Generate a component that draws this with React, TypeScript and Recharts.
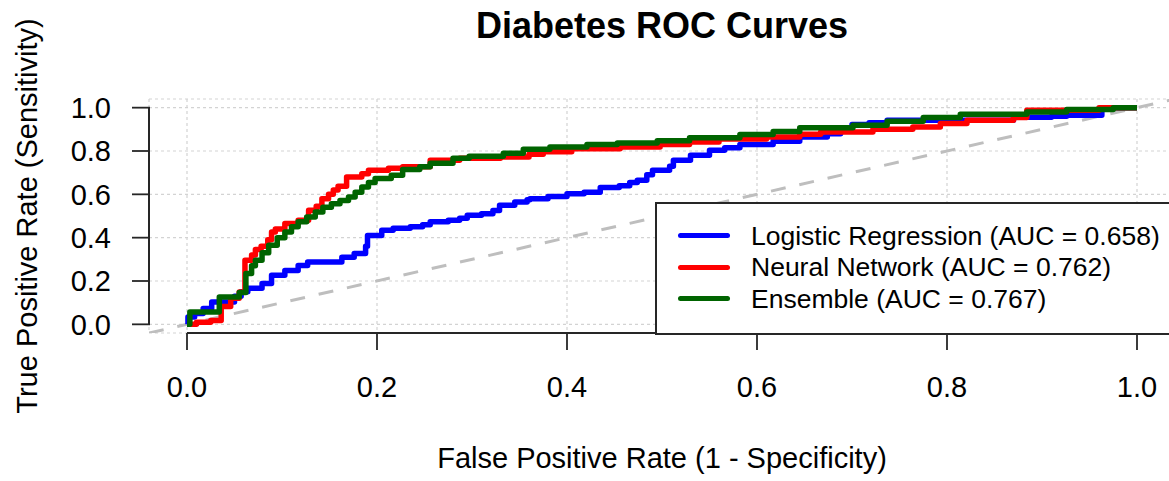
import React from 'react';
import { LineChart, Line, XAxis, YAxis, CartesianGrid, ReferenceLine, Label } from 'recharts';

const axisTicks = [0, 0.2, 0.4, 0.6, 0.8, 1];

const modelNames = ['Logistic Regression', 'Neural Network', 'Ensemble'];
const modelAuc = [0.658, 0.762, 0.767];
const modelColors = ['#0000ff', '#ff0000', '#006400'];

// chance line, spans the whole plot region like abline(0, 1)
const diagFpr = [-0.04, 1.04];
const diagTpr = [-0.04, 1.04];

const lrFpr = [0, 0.001, 0.008, 0.017, 0.026, 0.05, 0.057, 0.064, 0.079, 0.089, 0.103, 0.117, 0.127, 0.163, 0.176, 0.188, 0.19, 0.205, 0.217, 0.235, 0.248, 0.256, 0.275, 0.287, 0.295, 0.31, 0.322, 0.329, 0.345, 0.358, 0.361, 0.38, 0.4, 0.418, 0.435, 0.455, 0.466, 0.474, 0.484, 0.49, 0.508, 0.512, 0.53, 0.55, 0.566, 0.582, 0.617, 0.645, 0.674, 0.688, 0.7, 0.718, 0.737, 0.87, 0.91, 0.926, 0.963, 1];
const lrTpr = [0, 0.034, 0.05, 0.073, 0.103, 0.13, 0.15, 0.166, 0.189, 0.226, 0.249, 0.272, 0.288, 0.31, 0.327, 0.36, 0.41, 0.434, 0.443, 0.45, 0.46, 0.473, 0.48, 0.49, 0.503, 0.51, 0.525, 0.55, 0.565, 0.575, 0.58, 0.59, 0.603, 0.61, 0.631, 0.64, 0.655, 0.665, 0.69, 0.711, 0.73, 0.757, 0.78, 0.804, 0.815, 0.83, 0.845, 0.865, 0.88, 0.895, 0.922, 0.93, 0.942, 0.956, 0.96, 0.965, 1, 1];

const nnFpr = [0, 0.01, 0.025, 0.036, 0.046, 0.055, 0.061, 0.068, 0.072, 0.078, 0.085, 0.089, 0.093, 0.103, 0.117, 0.128, 0.136, 0.142, 0.149, 0.154, 0.159, 0.168, 0.184, 0.191, 0.212, 0.227, 0.256, 0.287, 0.33, 0.36, 0.375, 0.405, 0.456, 0.498, 0.529, 0.56, 0.61, 0.645, 0.667, 0.722, 0.764, 0.793, 0.821, 0.87, 0.884, 0.96, 1];
const nnTpr = [0, 0.01, 0.018, 0.082, 0.12, 0.149, 0.296, 0.32, 0.345, 0.36, 0.39, 0.426, 0.44, 0.465, 0.48, 0.527, 0.545, 0.58, 0.6, 0.62, 0.637, 0.68, 0.695, 0.711, 0.72, 0.727, 0.757, 0.766, 0.772, 0.785, 0.796, 0.81, 0.819, 0.83, 0.842, 0.855, 0.865, 0.877, 0.888, 0.9, 0.911, 0.927, 0.942, 0.955, 0.988, 1, 1];

const ensFpr = [0, 0.003, 0.034, 0.055, 0.062, 0.068, 0.072, 0.079, 0.086, 0.095, 0.103, 0.11, 0.117, 0.126, 0.135, 0.143, 0.152, 0.161, 0.17, 0.177, 0.184, 0.191, 0.198, 0.215, 0.227, 0.245, 0.256, 0.28, 0.297, 0.333, 0.354, 0.382, 0.421, 0.453, 0.495, 0.529, 0.582, 0.617, 0.645, 0.701, 0.737, 0.775, 0.814, 0.884, 0.926, 0.975, 1];
const ensTpr = [0, 0.057, 0.126, 0.147, 0.235, 0.27, 0.296, 0.33, 0.365, 0.4, 0.426, 0.45, 0.473, 0.495, 0.519, 0.54, 0.557, 0.572, 0.588, 0.61, 0.634, 0.655, 0.673, 0.688, 0.715, 0.727, 0.743, 0.766, 0.776, 0.79, 0.808, 0.819, 0.83, 0.837, 0.847, 0.861, 0.876, 0.89, 0.907, 0.919, 0.937, 0.955, 0.97, 0.98, 0.992, 1, 1];

const toPoints = (fpr: number[], tpr: number[]) => fpr.map((x, i) => ({ fpr: x, tpr: tpr[i] }));

const curves = [toPoints(lrFpr, lrTpr), toPoints(nnFpr, nnTpr), toPoints(ensFpr, ensTpr)];
const diagonal = toPoints(diagFpr, diagTpr);

const FONT = '"Liberation Sans", Arial, Helvetica, sans-serif';
const AXIS_COLOR = '#262626';

const XTick = ({ x, y, payload }: any) => (
  <g>
    <line x1={x} y1={y} x2={x} y2={y + 17} stroke={AXIS_COLOR} strokeWidth={1.8} />
    <text x={x} y={y + 64} textAnchor="middle" fontSize={29} fontFamily={FONT} fill="#000">
      {Number(payload.value).toFixed(1)}
    </text>
  </g>
);

const YTick = ({ x, y, payload }: any) => (
  <g>
    <line x1={x - 17} y1={y} x2={x + 1} y2={y} stroke={AXIS_COLOR} strokeWidth={1.8} />
    <text x={x - 38} y={y} dy="0.36em" textAnchor="end" fontSize={29} fontFamily={FONT} fill="#000">
      {Number(payload.value).toFixed(1)}
    </text>
  </g>
);

// legend box in the bottom-right corner of the plot region, like legend("bottomright")
const RocLegend = () => (
  <div
    style={{
      position: 'absolute',
      left: 655,
      top: 202,
      boxSizing: 'border-box',
      width: 540,
      height: 133,
      border: `2px solid ${AXIS_COLOR}`,
      background: '#fff',
      paddingTop: 16,
      fontFamily: FONT,
    }}
  >
    {modelNames.map((name, i) => (
      <div key={name} style={{ display: 'flex', alignItems: 'center', height: 31.5 }}>
        <span style={{ marginLeft: 21, width: 52, height: 5, borderRadius: 3, background: modelColors[i] }} />
        <span style={{ marginLeft: 21, fontSize: 26.5, lineHeight: 1, color: '#000', whiteSpace: 'nowrap' }}>
          {`${name} (AUC = ${modelAuc[i].toFixed(3)})`}
        </span>
      </div>
    ))}
  </div>
);

export default function App() {
  return (
    <div
      style={{
        position: 'absolute',
        left: 0,
        top: 0,
        width: 1169,
        height: 481,
        overflow: 'hidden',
        background: '#fff',
        fontFamily: FONT,
      }}
    >
      <svg width={1169} height={60} style={{ position: 'absolute', left: 0, top: 0 }}>
        <text x={662} y={38} textAnchor="middle" fontSize={36} fontWeight="bold" fontFamily={FONT} fill="#000">
          Diabetes ROC Curves
        </text>
      </svg>
      <LineChart width={1176} height={481} margin={{ top: 99, right: 1, bottom: 0, left: 0 }}>
        <CartesianGrid stroke="#d3d3d3" strokeDasharray="3 3" strokeWidth={1.2} />
        <XAxis
          type="number"
          dataKey="fpr"
          domain={[-0.04, 1.04]}
          allowDataOverflow
          ticks={axisTicks}
          interval={0}
          height={148}
          axisLine={false}
          tickLine={false}
          tickSize={0}
          tickMargin={0}
          tick={<XTick />}
        >
          <Label
            content={({ viewBox }: any) => (
              <text
                x={viewBox.x + viewBox.width / 2}
                y={viewBox.y + 135}
                textAnchor="middle"
                fontSize={29}
                fontFamily={FONT}
                fill="#000"
              >
                False Positive Rate (1 - Specificity)
              </text>
            )}
          />
        </XAxis>
        <YAxis
          type="number"
          domain={[-0.04, 1.04]}
          allowDataOverflow
          ticks={axisTicks}
          interval={0}
          width={149}
          axisLine={false}
          tickLine={false}
          tickSize={0}
          tickMargin={0}
          tick={<YTick />}
        >
          <Label
            content={({ viewBox }: any) => {
              const cx = viewBox.x + 37;
              const cy = viewBox.y + viewBox.height / 2;
              return (
                <text
                  x={cx}
                  y={cy}
                  transform={`rotate(-90 ${cx} ${cy})`}
                  textAnchor="middle"
                  fontSize={29}
                  fontFamily={FONT}
                  fill="#000"
                >
                  True Positive Rate (Sensitivity)
                </text>
              );
            }}
          />
        </YAxis>
        <Line
          data={diagonal}
          dataKey="tpr"
          type="linear"
          stroke="#bebebe"
          strokeWidth={3}
          strokeDasharray="15 14"
          dot={false}
          activeDot={false}
          legendType="none"
          isAnimationActive={false}
        />
        {curves.map((pts, i) => (
          <Line
            key={modelNames[i]}
            data={pts}
            dataKey="tpr"
            name={`${modelNames[i]} (AUC = ${modelAuc[i].toFixed(3)})`}
            type="stepAfter"
            stroke={modelColors[i]}
            strokeWidth={5.5}
            strokeLinejoin="round"
            dot={false}
            activeDot={false}
            isAnimationActive={false}
          />
        ))}
        <ReferenceLine
          segment={[{ x: 0, y: -0.04 }, { x: 1, y: -0.04 }]}
          stroke={AXIS_COLOR}
          strokeWidth={2}
          ifOverflow="visible"
        />
        <ReferenceLine
          segment={[{ x: -0.04, y: 0 }, { x: -0.04, y: 1 }]}
          stroke={AXIS_COLOR}
          strokeWidth={2}
          ifOverflow="visible"
        />
      </LineChart>
      <RocLegend />
    </div>
  );
}
